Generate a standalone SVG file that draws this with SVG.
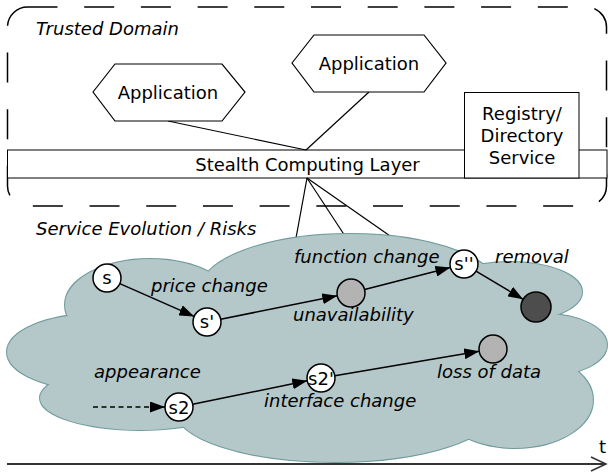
<svg xmlns="http://www.w3.org/2000/svg" width="608" height="472" viewBox="0 0 608 472">
<style>
text{font-family:"DejaVu Sans","Liberation Sans",sans-serif;font-size:18px;fill:#000}
.it{font-style:italic}
.c{text-anchor:middle}
.ln{stroke:#000;stroke-width:1.2;fill:none}
.arr{stroke:#000;stroke-width:1.5;fill:none;marker-end:url(#ah)}
.node{stroke:#000;stroke-width:1.5}
.cs{fill:#b4c7c9;stroke:#6f9b9c;stroke-width:2}
.cf{fill:#b4c7c9;stroke:none}
</style>
<defs>
<marker id="ah" markerUnits="userSpaceOnUse" markerWidth="15" markerHeight="11" refX="15" refY="5.5" orient="auto">
<path d="M0,0 L15,5.5 L0,11 z" fill="#000"/>
</marker>
</defs>
<rect x="7.5" y="7" width="599" height="199" rx="20" ry="20" fill="none" stroke="#000" stroke-width="1.5" stroke-dasharray="30 26.7"/>
<text class="it" x="36" y="35">Trusted Domain</text>
<g id="layer">
<rect x="7.5" y="150" width="599.5" height="28" fill="#fff" stroke="#000" stroke-width="1"/>
<text class="c" x="307.5" y="171">Stealth Computing Layer</text>
</g>
<g id="connectors">
<line class="ln" x1="306" y1="150" x2="168" y2="121"/>
<line class="ln" x1="306" y1="150" x2="369" y2="92"/>
<line class="ln" x1="307" y1="178" x2="296" y2="238"/>
<line class="ln" x1="307" y1="178" x2="345" y2="236"/>
<line class="ln" x1="307" y1="178" x2="393" y2="238"/>
</g>
<g id="registry">
<rect x="464.5" y="92.5" width="114.5" height="85.5" fill="#fff" stroke="#000" stroke-width="1"/>
<text class="c" x="522" y="120">Registry/</text>
<text class="c" x="522" y="142">Directory</text>
<text class="c" x="522" y="164">Service</text>
</g>
<g id="app1">
<polygon points="93,92 115,64 222,64 245,92 222,121 115,121" fill="#fff" stroke="#000" stroke-width="1.2"/>
<text class="c" x="168" y="98.5">Application</text>
</g>
<g id="app2">
<polygon points="292,63 314,35 424,35 446,63 424,92 314,92" fill="#fff" stroke="#000" stroke-width="1.2"/>
<text class="c" x="369" y="69.5">Application</text>
</g>
<text class="it" x="36" y="235">Service Evolution / Risks</text>
<g id="cloud">
<g class="cs">
<ellipse cx="150" cy="305" rx="85" ry="46"/>
<ellipse cx="95" cy="352" rx="88" ry="38"/>
<ellipse cx="140" cy="398" rx="100" ry="32"/>
<ellipse cx="335" cy="410" rx="160" ry="52"/>
<ellipse cx="515" cy="400" rx="78" ry="48"/>
<ellipse cx="545" cy="345" rx="62" ry="31"/>
<ellipse cx="510" cy="292" rx="72" ry="30"/>
<ellipse cx="350" cy="290" rx="150" ry="56"/>
</g>
<g class="cf">
<ellipse cx="150" cy="305" rx="85" ry="46"/>
<ellipse cx="95" cy="352" rx="88" ry="38"/>
<ellipse cx="140" cy="398" rx="100" ry="32"/>
<ellipse cx="335" cy="410" rx="160" ry="52"/>
<ellipse cx="515" cy="400" rx="78" ry="48"/>
<ellipse cx="545" cy="345" rx="62" ry="31"/>
<ellipse cx="510" cy="292" rx="72" ry="30"/>
<ellipse cx="350" cy="290" rx="150" ry="56"/>
<ellipse cx="320" cy="350" rx="260" ry="70"/>
</g>
</g>
<g id="evolution-connectors">
<line class="arr" x1="119.8" y1="283.6" x2="194.2" y2="316.4"/>
<line class="arr" x1="220.7" y1="319.2" x2="337.3" y2="295.8"/>
<line class="arr" x1="364.6" y1="289.5" x2="450.4" y2="267.5"/>
<line class="arr" x1="476" y1="271.2" x2="523.1" y2="299.3"/>
<line class="arr" x1="192.7" y1="404.2" x2="307.3" y2="380.8"/>
<line class="arr" x1="334.8" y1="375.7" x2="479.2" y2="351.3"/>
<line class="arr" x1="93" y1="407" x2="165" y2="407" stroke-dasharray="5 3.5"/>
</g>
<g id="s"><circle class="node" cx="107" cy="278" r="14" fill="#fff"/><text class="c" x="107" y="284">s</text></g>
<g id="s1"><circle class="node" cx="207" cy="322" r="14" fill="#fff"/><text class="c" x="207" y="328">s'</text></g>
<g id="unavail"><circle class="node" cx="351" cy="293" r="14" fill="#b3b3b3"/></g>
<g id="s2prime2"><circle class="node" cx="464" cy="264" r="14" fill="#fff"/><text class="c" x="464" y="270">s''</text></g>
<g id="removed"><circle class="node" cx="536" cy="307" r="15" fill="#4d4d4d"/></g>
<g id="lossdata"><circle class="node" cx="493" cy="349" r="14" fill="#b3b3b3"/></g>
<g id="s2"><circle class="node" cx="179" cy="407" r="14" fill="#fff"/><text class="c" x="179" y="413.5">s2</text></g>
<g id="s2p"><circle class="node" cx="321" cy="378" r="14" fill="#fff"/><text class="c" x="321" y="384.5">s2'</text></g>
<g id="labels">
<text class="it" x="151" y="292">price change</text>
<text class="it" x="294" y="263">function change</text>
<text class="it" x="495" y="263">removal</text>
<text class="it" x="293" y="321">unavailability</text>
<text class="it" x="94" y="378">appearance</text>
<text class="it" x="264" y="407">interface change</text>
<text class="it" x="437" y="378">loss of data</text>
</g>
<g id="time-axis">
<line x1="7" y1="464" x2="606" y2="464" stroke="#333" stroke-width="2"/>
<polyline points="591,457 606,464 591,471" fill="none" stroke="#333" stroke-width="1.5"/>
<text x="599" y="453">t</text>
</g>
</svg>
